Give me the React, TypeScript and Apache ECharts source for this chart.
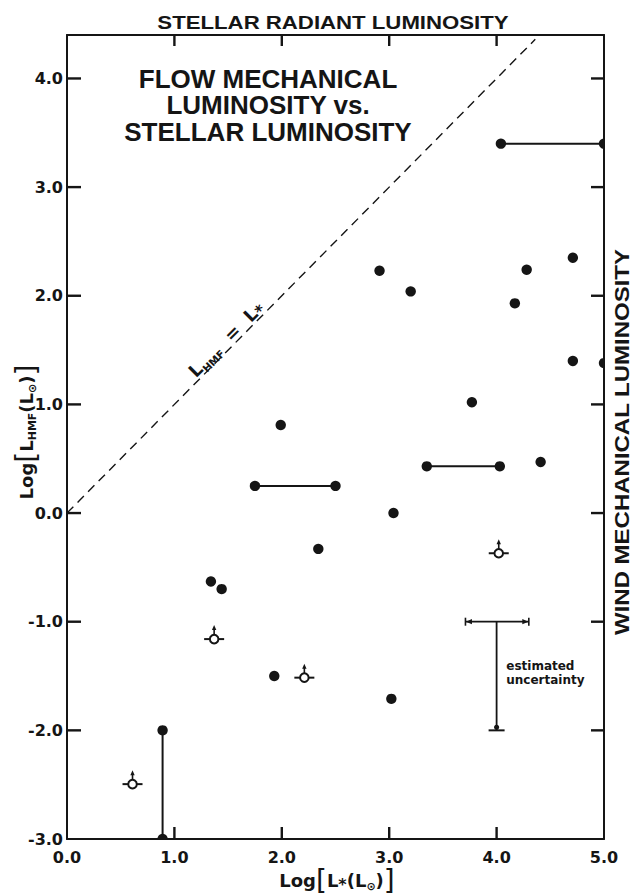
import React, { useEffect, useRef } from "react";
import * as echarts from "echarts";

// Axis ranges and tick values
const xRange: [number, number] = [0, 5];
const yRange: [number, number] = [-3, 4.4];
const tickStep = 1;
const xTickValues = [1, 2, 3, 4];
const yTickValues = [-2, -1, 0, 1, 2, 3, 4];

// Single sources: [log L*, log L_HMF]
const filledPoints: [number, number][] = [
  [2.91, 2.23],
  [3.2, 2.04],
  [4.71, 2.35],
  [4.28, 2.24],
  [4.17, 1.93],
  [4.71, 1.4],
  [5.0, 1.38],
  [3.77, 1.02],
  [1.99, 0.81],
  [4.41, 0.47],
  [3.04, 0.0],
  [2.34, -0.33],
  [1.34, -0.63],
  [1.44, -0.7],
  [1.93, -1.5],
  [3.02, -1.71],
];

// Sources with a range in stellar luminosity: [x from, x to, y]
const luminosityRanges: [number, number, number][] = [
  [4.04, 5.0, 3.4],
  [1.75, 2.5, 0.25],
  [3.35, 4.03, 0.43],
];

// Sources with a range in flow luminosity: [x, y from, y to]
const flowRanges: [number, number, number][] = [[0.89, -2.0, -3.0]];

// Lower limits (open symbols with arrow): [x, y]
const lowerLimits: [number, number][] = [
  [4.02, -0.37],
  [1.37, -1.16],
  [2.21, -1.515],
  [0.61, -2.495],
];

// L_HMF = L* reference line
const equalityLine: [number, number][] = [
  [0, 0],
  [4.36, 4.36],
];
const equalityLabelAt: [number, number] = [1.48, 1.6];

// Estimated uncertainty marker: [x centre, y top, y bottom, x left, x right]
const uncertainty: [number, number, number, number, number] = [4.0, -1.0, -2.0, 3.71, 4.3];
const uncertaintyLabelAt: [number, number] = [4.09, -1.47];

// Heading lines inside the plot
const headingLines = ["FLOW MECHANICAL", "LUMINOSITY vs.", "STELLAR LUMINOSITY"];

const INK = "#151515";
const FONT = '"DejaVu Sans", "Liberation Sans", sans-serif';
const HEAD_FONT = '"Liberation Sans", Arial, sans-serif';

const isWhole = (v: number) => Math.abs(v - Math.round(v)) < 1e-6;

function dotItem(_params: any, api: any) {
  const p = api.coord([api.value(0), api.value(1)]);
  return { type: "circle", shape: { cx: p[0], cy: p[1], r: 5.2 }, style: { fill: INK } };
}

function rangeItem(_params: any, api: any) {
  const a = api.coord([api.value(0), api.value(1)]);
  const b = api.coord([api.value(2), api.value(3)]);
  return {
    type: "group",
    children: [
      { type: "line", shape: { x1: a[0], y1: a[1], x2: b[0], y2: b[1] }, style: { stroke: INK, lineWidth: 2 } },
      { type: "circle", shape: { cx: a[0], cy: a[1], r: 5.2 }, style: { fill: INK } },
      { type: "circle", shape: { cx: b[0], cy: b[1], r: 5.2 }, style: { fill: INK } },
    ],
  };
}

function limitItem(_params: any, api: any) {
  const p = api.coord([api.value(0), api.value(1)]);
  const cx = p[0];
  const cy = p[1];
  return {
    type: "group",
    children: [
      { type: "line", shape: { x1: cx - 10, y1: cy, x2: cx + 10, y2: cy }, style: { stroke: INK, lineWidth: 2 } },
      { type: "line", shape: { x1: cx, y1: cy - 4, x2: cx, y2: cy - 10 }, style: { stroke: INK, lineWidth: 1.6 } },
      {
        type: "polygon",
        shape: { points: [[cx, cy - 14], [cx - 2.2, cy - 9], [cx + 2.2, cy - 9]] },
        style: { fill: INK },
      },
      { type: "circle", shape: { cx, cy, r: 4.3 }, style: { fill: "#fff", stroke: INK, lineWidth: 2 } },
    ],
  };
}

// Inward frame ticks as thin filled bars; record = [edge pair (0 = bottom/top, 1 = left/right), value]
function frameTickItem(_params: any, api: any) {
  const which = api.value(0);
  const v = api.value(1);
  const w = 2.4;
  if (which === 0) {
    const b = api.coord([v, yRange[0]]);
    const t = api.coord([v, yRange[1]]);
    return {
      type: "group",
      children: [
        { type: "rect", shape: { x: b[0] - w / 2, y: b[1] - 12, width: w, height: 12 }, style: { fill: INK } },
        { type: "rect", shape: { x: t[0] - w / 2, y: t[1], width: w, height: 11 }, style: { fill: INK } },
      ],
    };
  }
  const l = api.coord([xRange[0], v]);
  const r = api.coord([xRange[1], v]);
  return {
    type: "group",
    children: [
      { type: "rect", shape: { x: l[0], y: l[1] - w / 2, width: 14, height: w }, style: { fill: INK } },
      { type: "rect", shape: { x: r[0] - 13, y: r[1] - w / 2, width: 13, height: w }, style: { fill: INK } },
    ],
  };
}

function uncertaintyItem(_params: any, api: any) {
  const top = api.coord([api.value(0), api.value(1)]);
  const bottom = api.coord([api.value(0), api.value(2)]);
  const left = api.coord([api.value(3), api.value(1)]);
  const right = api.coord([api.value(4), api.value(1)]);
  const y = top[1];
  const label = api.coord(uncertaintyLabelAt);
  return {
    type: "group",
    children: [
      { type: "line", shape: { x1: left[0], y1: y, x2: right[0], y2: y }, style: { stroke: INK, lineWidth: 1.8 } },
      { type: "line", shape: { x1: left[0], y1: y - 4, x2: left[0], y2: y + 4 }, style: { stroke: INK, lineWidth: 1.6 } },
      { type: "line", shape: { x1: right[0], y1: y - 4, x2: right[0], y2: y + 4 }, style: { stroke: INK, lineWidth: 1.6 } },
      {
        type: "polygon",
        shape: { points: [[left[0] + 0.5, y], [left[0] + 6.5, y - 2.6], [left[0] + 6.5, y + 2.6]] },
        style: { fill: INK },
      },
      {
        type: "polygon",
        shape: { points: [[right[0] - 0.5, y], [right[0] - 6.5, y - 2.6], [right[0] - 6.5, y + 2.6]] },
        style: { fill: INK },
      },
      { type: "line", shape: { x1: top[0], y1: y, x2: bottom[0], y2: bottom[1] }, style: { stroke: INK, lineWidth: 1.8 } },
      {
        type: "line",
        shape: { x1: bottom[0] - 8, y1: bottom[1], x2: bottom[0] + 8, y2: bottom[1] },
        style: { stroke: INK, lineWidth: 2 },
      },
      { type: "circle", shape: { cx: bottom[0], cy: bottom[1] - 3, r: 2.6 }, style: { fill: INK } },
      {
        type: "text",
        x: label[0],
        y: label[1],
        style: {
          text: "estimated\nuncertainty",
          fontSize: 12,
          fontWeight: "bold",
          fontFamily: FONT,
          lineHeight: 13.5,
          fill: INK,
          align: "left",
          verticalAlign: "middle",
        },
      },
    ],
  };
}

function equalityLabelItem(_params: any, api: any) {
  const p = api.coord([api.value(0), api.value(1)]);
  return {
    type: "text",
    x: p[0],
    y: p[1],
    rotation: Math.PI / 4,
    style: {
      text: "{n|L}{s|HMF}{n|  =  L}{a|*}",
      align: "center",
      verticalAlign: "middle",
      fill: INK,
      rich: {
        n: { fontSize: 18, fontWeight: "bold", fontFamily: FONT, lineHeight: 24, fill: INK },
        s: { fontSize: 10.5, fontWeight: "bold", fontFamily: FONT, lineHeight: 10, verticalAlign: "bottom", fill: INK },
        a: { fontSize: 16, fontWeight: "bold", fontFamily: FONT, lineHeight: 16, verticalAlign: "bottom", fill: INK },
      },
    },
  };
}

const nameRich = {
  n: { fontSize: 18, fontWeight: "bold", fontFamily: FONT, lineHeight: 24, fill: INK },
  b: { fontSize: 28, fontWeight: "normal", fontFamily: FONT, lineHeight: 24, fill: INK },
  s: { fontSize: 11, fontWeight: "bold", fontFamily: FONT, lineHeight: 10, verticalAlign: "bottom", fill: INK },
  a: { fontSize: 16, fontWeight: "bold", fontFamily: FONT, lineHeight: 14, verticalAlign: "bottom", fill: INK },
};

// Titles and axis names
const textGraphics = [
  {
    type: "text",
    x: 333,
    y: 23,
    scaleX: 1.2,
    style: {
      text: "STELLAR RADIANT LUMINOSITY",
      fontSize: 18.5,
      fontWeight: "bold",
      fontFamily: HEAD_FONT,
      fill: INK,
      align: "center",
      verticalAlign: "middle",
    },
  },
  ...headingLines.map((line, i) => ({
    type: "text",
    x: 268,
    y: 78.8 + i * 26.6,
    style: {
      text: line,
      fontSize: 26,
      lineHeight: 22,
      fontWeight: "bold",
      fontFamily: HEAD_FONT,
      fill: INK,
      align: "center",
      verticalAlign: "middle",
    },
  })),
  {
    type: "text",
    x: 622,
    y: 442,
    rotation: Math.PI / 2,
    scaleX: 1.2,
    style: {
      text: "WIND MECHANICAL LUMINOSITY",
      fontSize: 20,
      fontWeight: "bold",
      fontFamily: HEAD_FONT,
      fill: INK,
      align: "center",
      verticalAlign: "middle",
    },
  },
  {
    type: "text",
    x: 26,
    y: 432,
    rotation: Math.PI / 2,
    style: {
      text: "{n|Log}{b|[}{n|L}{s|HMF}{n|(L}{s|⊙}{n|)}{b|]}",
      align: "center",
      verticalAlign: "middle",
      rich: nameRich,
    },
  },
  {
    type: "text",
    x: 337,
    y: 880,
    style: {
      text: "{n|Log}{b|[}{n|L}{a|*}{n|(L}{s|⊙}{n|)}{b|]}",
      align: "center",
      verticalAlign: "middle",
      rich: nameRich,
    },
  },
];

function buildOption() {
  const baseX = {
    type: "value",
    min: xRange[0],
    max: xRange[1],
    interval: tickStep,
    axisLine: { show: true, onZero: false, lineStyle: { color: INK, width: 2 } },
    axisTick: { show: false },
    splitLine: { show: false },
  };
  const baseY = {
    type: "value",
    min: yRange[0],
    max: yRange[1],
    interval: tickStep,
    axisLine: { show: true, onZero: false, lineStyle: { color: INK, width: 2 } },
    axisTick: { show: false },
    splitLine: { show: false },
  };
  const tickLabel = {
    fontSize: 16,
    fontWeight: "bold",
    fontFamily: FONT,
    color: INK,
    formatter: (v: number) => (isWhole(v) ? v.toFixed(1) : ""),
  };
  return {
    animation: false,
    backgroundColor: "#ffffff",
    grid: {
      left: 67,
      right: 35,
      top: 35,
      bottom: 56,
      show: false,
    },
    xAxis: [
      { ...baseX, position: "bottom", axisLabel: { ...tickLabel, margin: 10 } },
      { ...baseX, position: "top", axisLabel: { show: false } },
    ],
    yAxis: [
      { ...baseY, position: "left", axisLabel: { ...tickLabel, margin: 4, showMaxLabel: false } },
      { ...baseY, position: "right", axisLabel: { show: false } },
    ],
    graphic: textGraphics,
    series: [
      {
        name: "L_HMF = L*",
        type: "line",
        data: equalityLine,
        symbol: "none",
        silent: true,
        lineStyle: { color: INK, width: 1.4, type: [9, 6] },
        z: 2,
      },
      {
        name: "equality label",
        type: "custom",
        data: [equalityLabelAt],
        renderItem: equalityLabelItem,
        clip: false,
        silent: true,
        z: 3,
      },
      {
        name: "ranges",
        type: "custom",
        data: [
          ...luminosityRanges.map(([x1, x2, y]) => [x1, y, x2, y]),
          ...flowRanges.map(([x, y1, y2]) => [x, y1, x, y2]),
        ],
        renderItem: rangeItem,
        clip: true,
        silent: true,
        z: 4,
      },
      {
        name: "sources",
        type: "custom",
        data: filledPoints,
        renderItem: dotItem,
        clip: true,
        silent: true,
        z: 4,
      },
      {
        name: "lower limits",
        type: "custom",
        data: lowerLimits,
        renderItem: limitItem,
        clip: true,
        silent: true,
        z: 4,
      },
      {
        name: "estimated uncertainty",
        type: "custom",
        data: [uncertainty],
        renderItem: uncertaintyItem,
        clip: false,
        silent: true,
        z: 4,
      },
      {
        name: "frame ticks",
        type: "custom",
        data: [...xTickValues.map((v) => [0, v]), ...yTickValues.map((v) => [1, v])],
        renderItem: frameTickItem,
        clip: false,
        silent: true,
        z: 6,
      },
    ],
  };
}

export default function App() {
  const ref = useRef<HTMLDivElement>(null);
  useEffect(() => {
    if (!ref.current) return;
    const chart = echarts.init(ref.current, null, { renderer: "svg" });
    chart.setOption(buildOption() as any);
    return () => chart.dispose();
  }, []);
  return (
    <div
      ref={ref}
      style={{ position: "absolute", left: 0, top: 0, width: 639, height: 895, background: "#ffffff" }}
    />
  );
}
